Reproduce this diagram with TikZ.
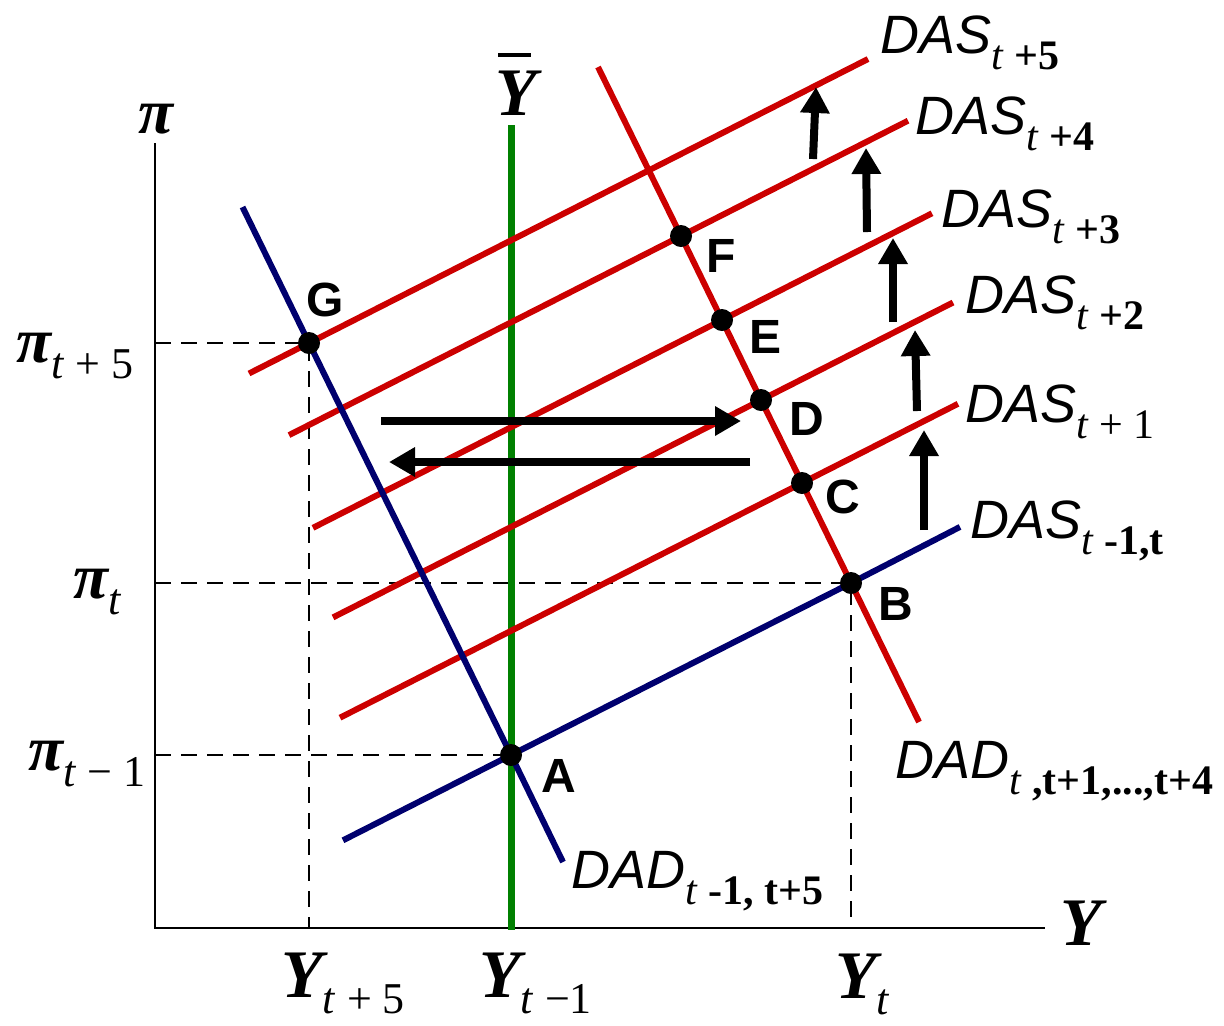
\documentclass[tikz,border=0pt]{standalone}
\usepackage{fontspec}
\setmainfont{Liberation Serif}
\newfontfamily\arial{Liberation Sans}
\usetikzlibrary{arrows.meta}

\definecolor{rojo}{RGB}{204,0,0}
\definecolor{azul}{RGB}{0,0,110}
\definecolor{verde}{RGB}{0,128,0}

% etiquetas de curvas y de ejes
\newcommand{\curva}[2]{{\arial\itshape\fontsize{27}{27}\selectfont #1}\raisebox{-8pt}{\fontsize{21}{21}\selectfont\textit{t}\ #2}}
\newcommand{\pilab}[1]{{\fontsize{32}{32}\selectfont\bfseries\itshape π}\raisebox{-8pt}{\fontsize{22}{22}\selectfont #1}}
\newcommand{\ylab}[1]{{\fontsize{34}{34}\selectfont\bfseries\itshape Y}\raisebox{-8pt}{\fontsize{22}{22}\selectfont #1}}

\begin{document}
\begin{tikzpicture}[x=0.5pt,y=-0.5pt,
    eje/.style={line width=1.2pt},
    guia/.style={line width=1pt,dash pattern=on 8pt off 5pt},
    recta/.style={line width=3pt},
    punto/.style={circle,fill=black,inner sep=0pt,minimum size=11pt},
    etiq/.style={font=\arial\bfseries\fontsize{24}{24}\selectfont,inner sep=0pt},
    texto/.style={anchor=base west,inner sep=0pt},
    flecha/.style={line width=4pt,-{Triangle[length=13pt,width=14pt]}}]
  \useasboundingbox (0,0) rectangle (1224,1025);

  % Puntos de equilibrio
  \coordinate (A) at (511,755);
  \coordinate (B) at (851,583);
  \coordinate (C) at (802,483);
  \coordinate (D) at (761,400);
  \coordinate (E) at (722,320);
  \coordinate (F) at (681,236);
  \coordinate (G) at (309,343);

  % Ejes
  \coordinate (O) at (155,928);
  \draw[eje] (155,143) -- (O) -- (1045,928);
  \node[anchor=base] (pi) at (156,133) {\fontsize{32}{32}\selectfont\bfseries\itshape π};
  \node[texto] (Y) at (1060,945) {\fontsize{34}{34}\selectfont\bfseries\itshape Y};

  % Lineas de referencia
  \draw[guia] (155,343) -- (G) -- (309,928);
  \draw[guia] (155,583) -- (B) -- (851,928);
  \draw[guia] (155,755) -- (A);

  % Producto potencial
  \draw[verde,line width=3.5pt] (511,125) -- (511,930);
  \node[anchor=base,inner sep=0pt] (ybar) at (516,115) {\fontsize{34}{34}\selectfont\bfseries\itshape\makebox[0pt][l]{\hspace{1.5pt}\raisebox{29pt}{\rule{16.5pt}{2pt}}}Y};

  % DAS desplazadas
  \draw[rojo,recta] (340,717.7) -- (C) -- (958,403.8);
  \draw[rojo,recta] (333,617.4) -- (D) -- (953,302.5);
  \draw[rojo,recta] (313,527.8) -- (E) -- (932,213.3);
  \draw[rojo,recta] (289,435.1) -- (F) -- (908,120.7);
  \draw[rojo,recta] (249,373.5) -- (G) -- (868,59);

  % DAS y DAD iniciales
  \draw[azul,recta] (343,840.3) -- (A) -- (B) -- (960,526.9);
  \draw[azul,recta] (242.5,207) -- (G) -- (A) -- (563,862);

  % DAD desplazada
  \draw[rojo,recta] (598,67) -- (F) -- (E) -- (D) -- (C) -- (B) -- (919,722);

  % Flechas
  \draw[flecha] (381,421) -- (741,421);
  \draw[flecha] (750,462) -- (389,462);
  \draw[flecha] (924,530) -- (924,430);
  \draw[flecha] (917,411) -- (915,330);
  \draw[flecha] (893,322) -- (893,238);
  \draw[flecha] (867,232) -- (866,148);
  \draw[flecha] (813,159) -- (816,87);

  % Puntos
  \foreach \p in {A,B,C,D,E,F,G}
    \node[punto] (p\p) at (\p) {};
  \node[etiq] (lA) at (559,776) {A};
  \node[etiq] (lB) at (896,604) {B};
  \node[etiq] (lC) at (843,497) {C};
  \node[etiq] (lD) at (807,419) {D};
  \node[etiq] (lE) at (765,337) {E};
  \node[etiq] (lF) at (721,256) {F};
  \node[etiq] (lG) at (325,300) {G};

  % Nombres de las curvas
  \node[texto] (das5) at (880,53) {\curva{DAS}{\textbf{+5}}};
  \node[texto] (das4) at (915,134) {\curva{DAS}{\textbf{+4}}};
  \node[texto] (das3) at (941,227) {\curva{DAS}{\textbf{+3}}};
  \node[texto] (das2) at (965,313) {\curva{DAS}{\textbf{+2}}};
  \node[texto] (das1) at (965,422) {\curva{DAS}{+ 1}};
  \node[texto] (das0) at (970,538) {\curva{DAS}{\textbf{-1,t}}};
  \node[texto] (dadt) at (895,778) {\curva{DAD}{\textbf{,t+1,...,t+4}}};
  \node[texto] (dad0) at (571,888) {\curva{DAD}{\textbf{-1, t+5}}};

  % Valores en los ejes
  \node[texto] (pi5) at (16,362) {\pilab{\textit{t} + 5}};
  \node[texto] (pit) at (73,598) {\pilab{\textit{t}}};
  \node[texto] (pi0) at (28,770) {\pilab{\textit{t} − 1}};
  \node[texto] (y5) at (281,997) {\ylab{\textit{t} + 5}};
  \node[texto] (y0) at (479,997) {\ylab{\textit{t} −1}};
  \node[texto] (yt) at (835,998) {\ylab{\textit{t}}};
\end{tikzpicture}
\end{document}
